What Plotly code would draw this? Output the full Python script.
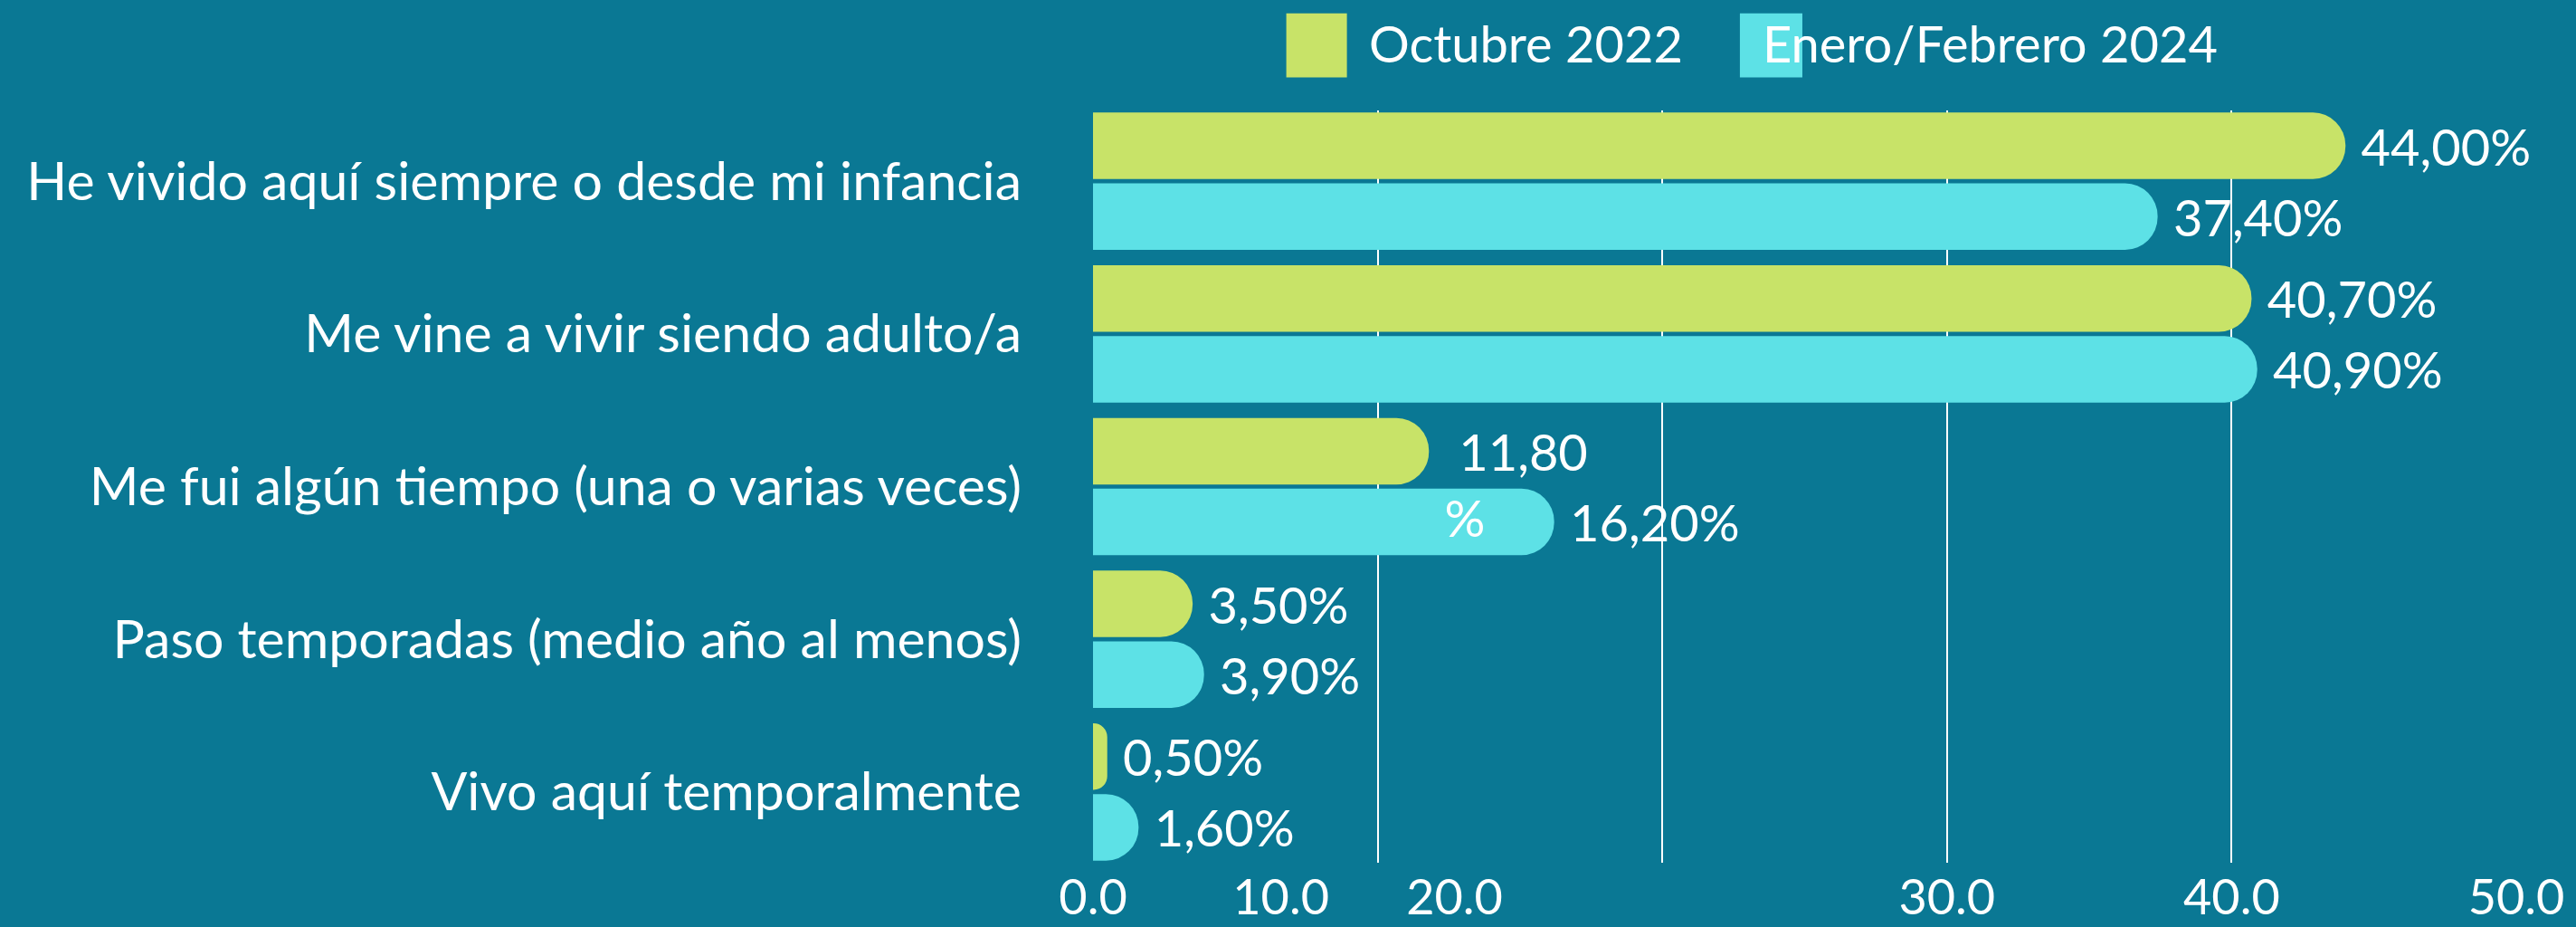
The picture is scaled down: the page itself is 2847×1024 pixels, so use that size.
import plotly.graph_objects as go

categories = [
    "He vivido aquí siempre o desde mi infancia",
    "Me vine a vivir siendo adulto/a",
    "Me fui algún tiempo (una o varias veces)",
    "Paso temporadas (medio año al menos)",
    "Vivo aquí temporalmente",
]
series_names = ["Octubre 2022", "Enero/Febrero 2024"]
octubre_2022 = [44.0, 40.7, 11.8, 3.5, 0.5]
enero_febrero_2024 = [37.4, 40.9, 16.2, 3.9, 1.6]
octubre_labels = ["44,00%", "40,70%", "<br>11,80<br>%", "3,50%", "0,50%"]
enero_labels = ["37,40%", "40,90%", "16,20%", "3,90%", "1,60%"]
tick_labels = ["0.0", "10.0", "20.0", "30.0", "40.0", "50.0"]
grid_values = [0, 10, 20, 30, 40, 50]
tick_label_positions = [0, 6.6, 12.7, 30, 40, 50]

BG = "#0A7894"
GREEN = "#C8E368"
CYAN = "#5DE1E6"
FONT = "Lato"
NBSP = "\u00a0"


def pad(label):
    parts = label.split("<br>")
    width = max(len(p) for p in parts)
    out = []
    for p in parts:
        if p and len(p) < width:
            # keep wrapped lines left-aligned under the first line
            p = p + NBSP * 9
        out.append(NBSP + p)
    return "<br>".join(out)


fig = go.Figure()
# Cyan first (lower slot of each group), green second (upper slot, drawn on top)
for name, vals, labels, color in [
    (series_names[1], enero_febrero_2024, enero_labels, CYAN),
    (series_names[0], octubre_2022, octubre_labels, GREEN),
]:
    fig.add_trace(go.Bar(
        name=name, y=categories, x=vals, orientation="h",
        marker=dict(color=color, line=dict(width=0), cornerradius="50%"),
        text=[pad(t) for t in labels], textposition="outside",
        constraintext="none", cliponaxis=False,
        textfont=dict(family=FONT, size=56, color="white"),
        showlegend=False, hoverinfo="x+y",
    ))

# axis carrying the (displaced) tick labels
fig.add_trace(go.Scatter(x=[None], y=[None], xaxis="x2", yaxis="y",
                         showlegend=False, hoverinfo="skip"))

fig.update_layout(
    width=2847, height=1024,
    paper_bgcolor=BG, plot_bgcolor=BG,
    margin=dict(l=1208, r=66, t=122, b=71, autoexpand=False),
    barmode="group", bargap=0.073, bargroupgap=0.06,
    font=dict(family=FONT, color="white"),
    xaxis=dict(range=[0, 50], tickvals=grid_values, showticklabels=False,
               showgrid=True, gridcolor="white", gridwidth=1.5,
               zeroline=False, showline=False, ticks=""),
    xaxis2=dict(range=[0, 50], overlaying="x", anchor="y", side="bottom",
                tickvals=tick_label_positions, ticktext=tick_labels,
                showgrid=False, zeroline=False, showline=False, ticks="",
                ticklabelstandoff=2,
                tickfont=dict(family=FONT, size=54, color="white")),
    yaxis=dict(categoryorder="array", categoryarray=categories[::-1],
               range=[-0.4635, 4.4635], showgrid=False, zeroline=False,
               showline=False, ticks="", ticklabelstandoff=78,
               tickfont=dict(family=FONT, size=59, color="white")),
)

# legend built from swatches and labels
legend_items = [
    (GREEN, 0.1358, 0.1784, 0.1924, series_names[0]),
    (CYAN, 0.4545, 0.4984, 0.469, series_names[1]),
]
for color, x0, x1, tx, label in legend_items:
    fig.add_shape(type="rect", xref="paper", yref="paper", x0=x0, x1=x1,
                  y0=1.044, y1=1.129, fillcolor=color, line=dict(width=0),
                  layer="below")
    fig.add_annotation(xref="paper", yref="paper", x=tx, y=1.09,
                       xanchor="left", yanchor="middle", text=label,
                       showarrow=False,
                       font=dict(family=FONT, size=56, color="white"))

fig.write_html(
    "out.html",
    config={"displayModeBar": False},
    post_script=(
        "document.body.style.margin='0';"
        "document.body.style.background='" + BG + "';"
        "document.documentElement.style.overflow='hidden';"
    ),
)
